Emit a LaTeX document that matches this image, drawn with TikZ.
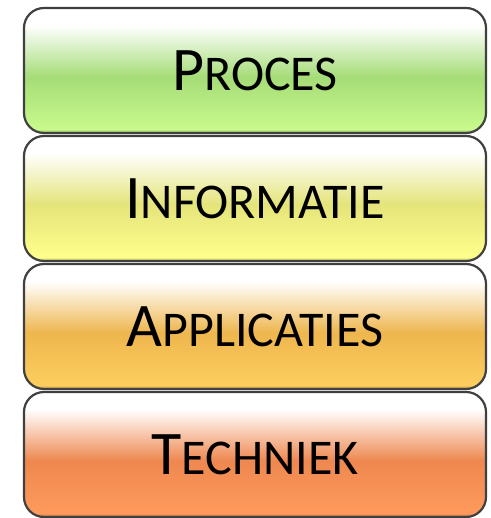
\documentclass[tikz,border=0pt]{standalone}
\usepackage{fontspec}
\setmainfont{Carlito}
\usetikzlibrary{positioning}

\definecolor{groenbasis}{HTML}{C8FA8C}
\definecolor{groenmidden}{HTML}{A6DC78}
\definecolor{geelbasis}{HTML}{FFFF8C}
\definecolor{geelmidden}{HTML}{E4E47A}
\definecolor{oranjebasis}{HTML}{FCCE5E}
\definecolor{oranjemidden}{HTML}{EEB64E}
\definecolor{roodbasis}{HTML}{FF9A5C}
\definecolor{roodmidden}{HTML}{EE8850}

\newcommand{\glans}[3]{\pgfdeclareverticalshading{#1}{100bp}{color(0bp)=(#2!70!black); color(25bp)=(#2!70!black); color(26.5bp)=(#2); color(47.5bp)=(#3); color(68bp)=(white); color(100bp)=(white)}}
\glans{glansgroen}{groenbasis}{groenmidden}
\glans{glansgeel}{geelbasis}{geelmidden}
\glans{glansoranje}{oranjebasis}{oranjemidden}
\glans{glansrood}{roodbasis}{roodmidden}

\newcommand{\kk}[2]{{\fontsize{62}{62}\selectfont #1}{\fontsize{50}{50}\selectfont #2}}

\tikzset{laag/.style={draw=black!75, line width=2.2pt, rounded corners=20pt,
  minimum width=462pt, minimum height=125pt, text=black}}

\begin{document}
\begin{tikzpicture}
\fill[white] (0,0) rectangle (490pt,518pt);
\useasboundingbox (0,0) rectangle (490pt,518pt);

%Proces
\node[laag, shading=glansgroen] (proces) at (255pt,447.5pt) {\kk{P}{ROCES}};
%Informatie
\node[laag, shading=glansgeel, below=0.8pt of proces] (informatie) {\kk{I}{NFORMATIE}};
%Applicaties
\node[laag, shading=glansoranje, below=0.8pt of informatie] (applicaties) {\kk{A}{PPLICATIES}};
%Techniek
\node[laag, shading=glansrood, below=0.8pt of applicaties] (techniek) {\kk{T}{ECHNIEK}};

\end{tikzpicture}
\end{document}
